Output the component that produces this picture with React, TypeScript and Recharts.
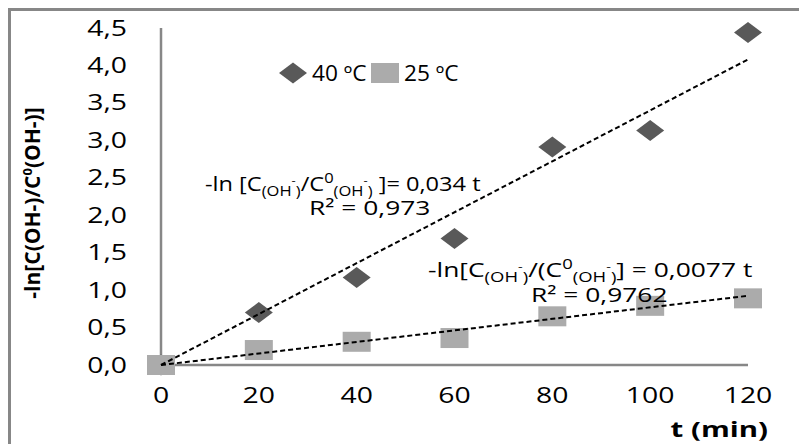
import React from 'react';
import { ScatterChart, Scatter, XAxis, YAxis } from 'recharts';

const times = [0, 20, 40, 60, 80, 100, 120];
const val40 = [0, 0.7, 1.17, 1.69, 2.91, 3.13, 4.44];
const val25 = [0, 0.2, 0.31, 0.36, 0.65, 0.79, 0.89];
const xTicks = [0, 20, 40, 60, 80, 100, 120];
const yTicks = [0, 0.5, 1, 1.5, 2, 2.5, 3, 3.5, 4, 4.5];
const fit40 = [{ t: 0, v: 0 }, { t: 120, v: 4.08 }];
const fit25 = [{ t: 0, v: 0 }, { t: 120, v: 0.924 }];
const seriesNames = ['40 ºC', '25 ºC'];

const data40 = times.map((t, i) => ({ t, v: val40[i] }));
const data25 = times.map((t, i) => ({ t, v: val25[i] }));

const FONT = '"Open Sans", sans-serif';
const DIAMOND = '#595959';
const SQUARE = '#ababab';
const AXIS = '#878787';

const stretch = (x: number, s: number) => `translate(${x},0) scale(${s},1) translate(${-x},0)`;

const Diamond = (p: any) => {
  const { cx, cy } = p;
  if (cx == null || cy == null) return <g />;
  return <polygon points={`${cx - 14},${cy} ${cx},${cy - 10.5} ${cx + 14},${cy} ${cx},${cy + 10.5}`} fill={DIAMOND} />;
};
const Square = (p: any) => {
  const { cx, cy } = p;
  if (cx == null || cy == null) return <g />;
  return <rect x={cx - 14} y={cy - 10} width={28} height={20} fill={SQUARE} />;
};
const NoShape = () => <g />;

const fmt = (v: number) => v.toFixed(1).replace('.', ',');

const YTick = (p: any) => {
  const { x, y, payload } = p;
  return (
    <text x={x} y={y} dy="0.36em" textAnchor="end" fontFamily={FONT} fontSize={21} fill="#000" transform={stretch(x, 1.35)}>
      {fmt(payload.value)}
    </text>
  );
};
const XTick = (p: any) => {
  const { x, y, payload } = p;
  return (
    <text x={x} y={y} dy="0.71em" textAnchor="middle" fontFamily={FONT} fontSize={21} fill="#000" transform={stretch(x, 1.35)}>
      {payload.value}
    </text>
  );
};

export default function App() {
  return (
    <div style={{ position: 'absolute', left: 0, top: 0, width: 799, height: 444, background: '#fff', overflow: 'hidden' }}>
      <div style={{ position: 'absolute', left: 8, top: 8, width: 900, height: 600, borderTop: `3px solid ${AXIS}`, borderLeft: `3px solid ${AXIS}` }} />
      <div style={{ position: 'absolute', left: 0, top: 0 }}>
        <ScatterChart width={799} height={444} margin={{ top: 28, right: 51, bottom: 49, left: 0 }}>
          <XAxis type="number" dataKey="t" domain={[0, 120]} ticks={xTicks} tick={<XTick />} height={30}
            tickLine={false} tickSize={0} tickMargin={23} axisLine={{ stroke: AXIS, strokeWidth: 2.5 }} />
          <YAxis type="number" dataKey="v" domain={[0, 4.5]} ticks={yTicks} tick={<YTick />} width={161}
            tickLine={false} tickSize={0} tickMargin={34} axisLine={{ stroke: AXIS, strokeWidth: 2.5 }} />
          <Scatter name={seriesNames[0]} data={data40} shape={<Diamond />} isAnimationActive={false} />
          <Scatter name={seriesNames[1]} data={data25} shape={<Square />} isAnimationActive={false} />
          <Scatter data={fit40} shape={<NoShape />} line={{ stroke: '#000', strokeWidth: 2, strokeDasharray: '5 3' }} isAnimationActive={false} legendType="none" />
          <Scatter data={fit25} shape={<NoShape />} line={{ stroke: '#000', strokeWidth: 2, strokeDasharray: '5 3' }} isAnimationActive={false} legendType="none" />
        </ScatterChart>
      </div>
      <svg width={799} height={444} style={{ position: 'absolute', left: 0, top: 0, pointerEvents: 'none' }} fontFamily={FONT}>
        <g>
          <polygon points="279,73 293,62.5 307,73 293,83.5" fill={DIAMOND} />
          <text x={312} y={81} fontSize={21} fill="#000" transform={stretch(312, 1.08)}>{seriesNames[0]}</text>
          <rect x={371} y={63} width={28} height={20} fill={SQUARE} />
          <text x={404} y={81} fontSize={21} fill="#000" transform={stretch(404, 1.08)}>{seriesNames[1]}</text>
        </g>
        <text x={205} y={191} fontSize={20} fill="#000" transform={stretch(205, 1.18)}>
          -ln [C<tspan fontSize={14} dy={5}>(OH</tspan><tspan fontSize={11} dy={-12}>-</tspan><tspan fontSize={14} dy={12}>)</tspan>
          <tspan dy={-5}>/C</tspan><tspan fontSize={14} dy={-8}>0</tspan><tspan fontSize={14} dy={13}>(OH</tspan><tspan fontSize={11} dy={-12}>-</tspan><tspan fontSize={14} dy={12}>)</tspan>
          <tspan dy={-5}> ]= 0,034 t</tspan>
        </text>
        <text x={309} y={215} fontSize={20} fill="#000" transform={stretch(309, 1.32)}>R² = 0,973</text>
        <text x={428} y={277} fontSize={20} fill="#000" transform={stretch(428, 1.32)}>
          -ln[C<tspan fontSize={14} dy={5}>(OH</tspan><tspan fontSize={11} dy={-12}>-</tspan><tspan fontSize={14} dy={12}>)</tspan>
          <tspan dy={-5}>/(C</tspan><tspan fontSize={14} dy={-8}>0</tspan><tspan fontSize={14} dy={13}>(OH</tspan><tspan fontSize={11} dy={-12}>-</tspan><tspan fontSize={14} dy={12}>)</tspan>
          <tspan dy={-5}>] = 0,0077 t</tspan>
        </text>
        <text x={531} y={302} fontSize={20} fill="#000" transform={stretch(531, 1.32)}>R² = 0,9762</text>
        <text x={768} y={437} fontSize={21} fontWeight="bold" textAnchor="end" fill="#000" transform={stretch(768, 1.4)}>t (min)</text>
        <text transform="translate(40,203) rotate(-90)" fontSize={21} fontWeight="bold" textAnchor="middle" fill="#000">
          -ln[C(OH-)/C<tspan fontSize={13} dy={-8}>0</tspan><tspan dy={8}>(OH-)]</tspan>
        </text>
      </svg>
    </div>
  );
}
